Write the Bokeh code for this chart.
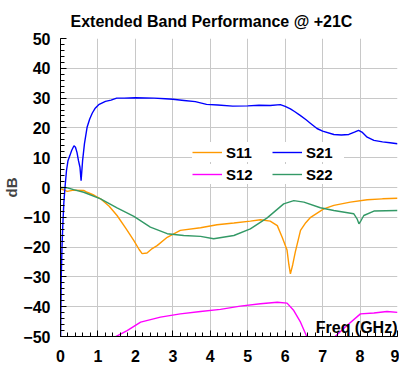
from bokeh.plotting import figure
from bokeh.models import (Range1d, Legend, LegendItem, Label, Title,
                          SingleIntervalTicker)
from bokeh.embed import file_html
from bokeh.resources import INLINE

FONT = "Liberation Sans"

# Frequency sweep (GHz) and measured S-parameters (dB) for each trace
s21_freq = [0.0, 0.02, 0.04, 0.06, 0.09, 0.12, 0.16, 0.2, 0.25, 0.3, 0.36, 0.4,
            0.44, 0.48, 0.52, 0.55, 0.59, 0.64, 0.71, 0.78, 0.85, 0.92, 1.02,
            1.2, 1.35, 1.5, 1.7, 2.0, 2.5, 2.8, 3.0, 3.3, 3.6, 3.9, 4.2, 4.6,
            5.0, 5.3, 5.6, 5.87, 6.0, 6.14, 6.25, 6.4, 6.55, 6.68, 6.85, 7.0,
            7.3, 7.5, 7.7, 7.85, 7.96, 8.05, 8.19, 8.37, 8.6, 8.8, 9.0]
s21_db = [-55, -30, -20, -13, -5, 0, 5.7, 9, 10.7, 12.5, 14, 13.5,
          11.8, 9, 6.8, 2.3, 9, 14.7, 20.2, 23, 25, 26.5, 27.8,
          28.9, 29.3, 30, 30, 30.1, 30, 29.8, 29.6, 29.2, 28.8, 27.9, 27.7, 27.3,
          27.4, 27.6, 27.5, 27.8, 27.2, 26.4, 25.5, 24.2, 22.8, 21.5, 19.8, 18.9,
          17.8, 17.6, 17.8, 18.6, 19.2, 18.6, 16.9, 15.8, 15.3, 15.0, 14.7]

s11_freq = [0.0, 0.18, 0.35, 0.62, 0.71, 0.9, 1.07, 1.3, 1.51, 1.75, 1.96, 2.1,
            2.18, 2.31, 2.45, 2.58, 2.85, 3.2, 3.74, 4.18, 4.63, 5.07, 5.34,
            5.6, 5.79, 5.92, 6.05, 6.1, 6.14, 6.2, 6.27, 6.41, 6.55, 6.68, 7.03,
            7.3, 7.74, 8.19, 8.6, 9.0]
s11_db = [-0.4, -1.3, -0.9, -1.0, -1.6, -2.6, -3.8, -6.3, -9.4, -13.8, -17.8, -20.8,
          -22.2, -22.0, -20.5, -19.5, -16.7, -14.4, -13.5, -12.5, -11.9, -11.3, -10.8,
          -11.3, -12.8, -16.7, -21.0, -26.0, -29.0, -26.0, -21.7, -14.4, -11.8, -10.0, -7.2,
          -6.0, -4.9, -4.1, -3.8, -3.6]

s12_freq = [1.2, 1.42, 1.78, 2.14, 2.67, 3.2, 3.74, 4.27, 4.8, 5.34, 5.79, 6.05,
            6.23, 6.41, 6.59, 6.7, 7.2, 7.3, 7.65, 8.01, 8.37, 8.72, 9.0]
s12_db = [-55, -50.4, -48, -45.2, -43.5, -42.4, -41.6, -40.9, -39.8, -39, -38.5, -38.8,
          -41.3, -45.2, -50.4, -55, -55, -50.4, -46.3, -42.4, -42.1, -41.6, -41.9]

s22_freq = [0.0, 0.18, 0.35, 0.62, 1.07, 1.51, 1.96, 2.4, 2.85, 3.29, 3.74, 4.09,
            4.63, 5.07, 5.52, 5.96, 6.23, 6.5, 6.94, 7.3, 7.83, 7.92, 7.97, 8.03,
            8.1, 8.37, 9.0]
s22_db = [0.0, -0.1, -0.7, -1.6, -3.8, -6.8, -9.7, -13.3, -15.5, -16.1, -16.4, -17.2,
          -16.1, -13.9, -10.2, -5.5, -4.4, -4.9, -6.8, -7.7, -8.8, -10.5, -12.2, -11.0,
          -9.4, -7.9, -7.7]

p = figure(width=399, height=371, output_backend="svg", toolbar_location=None,
           x_range=Range1d(0, 9), y_range=Range1d(-50, 50),
           min_border_left=60, min_border_right=2, min_border_top=38,
           min_border_bottom=35)
p.background_fill_color = "white"
p.border_fill_color = "white"
p.outline_line_color = None

p.title = Title(text="Extended Band Performance @ +21C", align="left", offset=10,
                text_font=FONT, text_font_size="16px", text_font_style="bold",
                text_color="black", text_line_height=0.8, standoff=18)

p.xaxis.ticker = SingleIntervalTicker(interval=1, num_minor_ticks=5)
p.yaxis.ticker = SingleIntervalTicker(interval=10, num_minor_ticks=5)
for ax in (p.xaxis[0], p.yaxis[0]):
    ax.axis_line_color = "black"
    ax.axis_line_width = 1
    ax.major_tick_in = 6
    ax.major_tick_out = 0
    ax.minor_tick_in = 4
    ax.minor_tick_out = 0
    ax.major_tick_line_color = "black"
    ax.minor_tick_line_color = "black"
    ax.major_label_text_font = FONT
    ax.major_label_text_font_size = "16px"
    ax.major_label_text_font_style = "bold"
    ax.major_label_text_color = "black"
p.xaxis.major_label_standoff = 13
p.yaxis.major_label_standoff = 10
p.yaxis.axis_label = "dB"
p.yaxis.axis_label_text_font = FONT
p.yaxis.axis_label_text_font_size = "15px"
p.yaxis.axis_label_text_font_style = "bold"
p.yaxis.axis_label_standoff = 0

p.grid.grid_line_color = "#C8C8C8"
p.grid.grid_line_width = 1

r11 = p.line(s11_freq, s11_db, line_color="#FF9900", line_width=1.4)
r21 = p.line(s21_freq, s21_db, line_color="#0000FF", line_width=1.4)
r12 = p.line(s12_freq, s12_db, line_color="#FF00FF", line_width=1.4)
r22 = p.line(s22_freq, s22_db, line_color="#339966", line_width=1.4)


def make_legend(items, loc):
    lg = Legend(items=items, location=loc, orientation="horizontal",
                glyph_width=30, glyph_height=20, label_standoff=4,
                label_width=38, spacing=8, padding=3, margin=0,
                label_text_font=FONT, label_text_font_size="15px",
                label_text_font_style="bold", label_text_color="black",
                background_fill_color="white", background_fill_alpha=1.0,
                border_line_color=None)
    return lg


p.add_layout(make_legend([LegendItem(label="S11", renderers=[r11]),
                          LegendItem(label="S21", renderers=[r21])], (132, 174)))
p.add_layout(make_legend([LegendItem(label="S12", renderers=[r12]),
                          LegendItem(label="S22", renderers=[r22])], (132, 152)))

p.add_layout(Label(x=9, y=-50, text="Freq (GHz)", text_align="right",
                   text_baseline="bottom", y_offset=1, text_font=FONT,
                   text_font_size="16px", text_font_style="bold",
                   text_color="black"))

open("out.html", "w").write(file_html(p, INLINE))
